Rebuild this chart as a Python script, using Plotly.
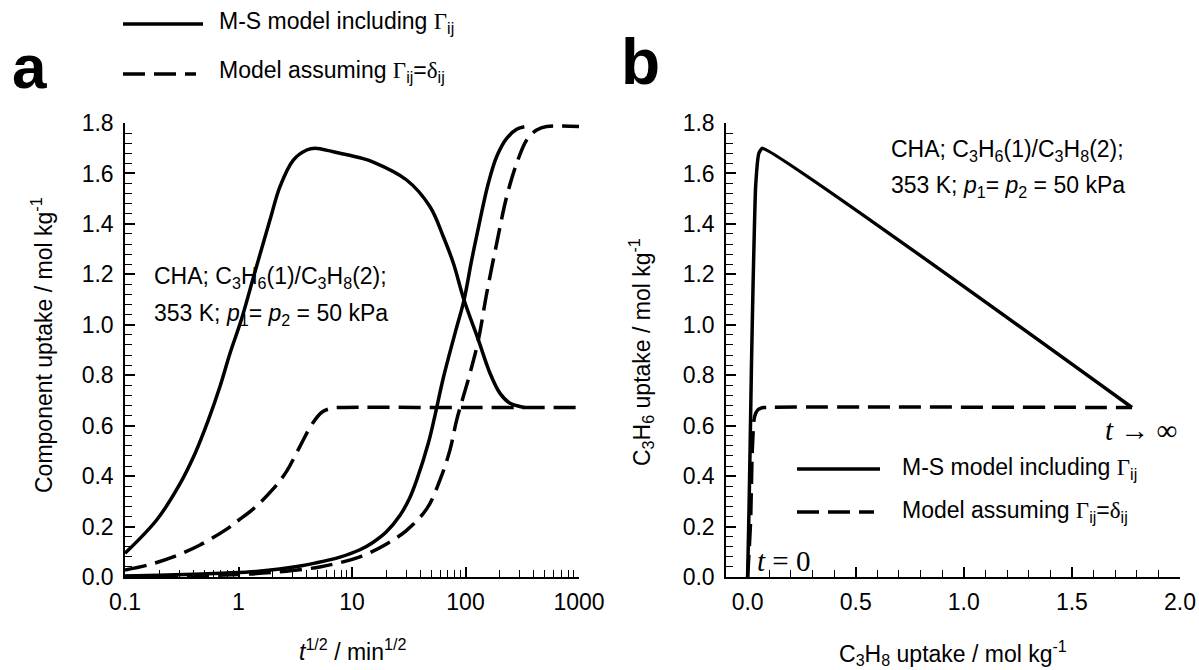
import plotly.graph_objects as go

# ---- Panel a: component uptake vs t^(1/2) (log axis) ----
# M-S model including thermodynamic factors, C3H6 (component 1)
t_ms_c3h6 = [0.1, 0.19, 0.295, 0.414, 0.542, 0.687, 0.842, 1.067, 1.397, 1.895, 2.32, 3.04,
             3.99, 4.72, 6.84, 11.75, 15.4, 30.3, 48.7, 63.8, 78.2, 97.1, 129.8, 164.4,
             201.4, 246.6, 302, 330]
q_ms_c3h6 = [0.094, 0.226, 0.358, 0.49, 0.622, 0.755, 0.887, 1.025, 1.21, 1.416, 1.548, 1.653,
             1.693, 1.700, 1.686, 1.662, 1.645, 1.574, 1.468, 1.349, 1.244, 1.098, 0.94, 0.808,
             0.728, 0.689, 0.676, 0.672]
# M-S model including thermodynamic factors, C3H8 (component 2)
t_ms_c3h8 = [0.1, 0.2, 0.41, 0.8, 1.5, 2.3, 3.5, 4.7, 7.84, 11.75, 15.4, 20, 26.5, 32, 37.2,
             47.0, 53.8, 63.8, 80.8, 97.0, 113.4, 134.3, 158.9, 188.3, 230.6, 282.5, 330]
q_ms_c3h8 = [0.004, 0.007, 0.011, 0.016, 0.023, 0.032, 0.044, 0.055, 0.079, 0.108, 0.138, 0.178,
             0.245, 0.31, 0.385, 0.53, 0.64, 0.79, 0.966, 1.098, 1.257, 1.416, 1.561, 1.667,
             1.739, 1.775, 1.785]
# Model with Gamma_ij = delta_ij, C3H6
t_fk_c3h6 = [0.1, 0.155, 0.266, 0.458, 0.787, 1.0, 1.35, 2.03, 2.66, 3.5, 4.5, 5.5, 6.8, 8, 100,
             1000]
q_fk_c3h6 = [0.028, 0.046, 0.08, 0.127, 0.19, 0.225, 0.27, 0.35, 0.42, 0.52, 0.61, 0.655, 0.67,
             0.672, 0.672, 0.672]
# Model with Gamma_ij = delta_ij, C3H8
t_fk_c3h8 = [0.1, 0.3, 1, 2, 5.2, 11.75, 20, 30.3, 45.5, 59.6, 73.0, 83.6, 109.6, 129.8, 153.8,
             188.3, 230.6, 282.5, 346, 424, 519, 1000]
q_fk_c3h8 = [0.002, 0.004, 0.01, 0.018, 0.04, 0.08, 0.13, 0.185, 0.27, 0.385, 0.504, 0.622,
             0.808, 0.94, 1.125, 1.323, 1.508, 1.64, 1.733, 1.772, 1.786, 1.786]

# ---- Panel b: C3H6 uptake vs C3H8 uptake (transient trajectory) ----
b_ms_q2 = [0.0, 0.006, 0.011, 0.018, 0.025, 0.037, 0.052, 0.068, 1.778]
b_ms_q1 = [0.0, 0.25, 0.49, 0.85, 1.15, 1.548, 1.68, 1.70, 0.672]
b_fk_q2 = [0.0, 0.008, 0.014, 0.021, 0.029, 0.038, 0.048, 0.06, 0.075, 1.778]
b_fk_q1 = [0.0, 0.12, 0.226, 0.49, 0.62, 0.65, 0.663, 0.669, 0.672, 0.672]

# ---- Tick labels ----
log_ticks = [0.1, 1, 10, 100, 1000]
log_tick_text = ["0.1", "1", "10", "100", "1000"]
log_minor = [m * 10 ** e for e in (-1, 0, 1, 2) for m in range(2, 10)]

W, H = 1199, 670
SANS = "Arial, Liberation Sans, Helvetica, sans-serif"
SERIF = "Times New Roman, Liberation Serif, serif"
FS = 23
LW = 3.5
DASH = "22px,9px"

def px(x):
    return x / W

def py(y):
    return 1 - y / H

fig = go.Figure()

line_solid = dict(color="black", width=LW, shape="spline", smoothing=1.0)
line_dash = dict(color="black", width=LW, dash=DASH, shape="spline", smoothing=1.0)

fig.add_trace(go.Scatter(x=t_ms_c3h6, y=q_ms_c3h6, mode="lines", line=line_solid,
                         xaxis="x", yaxis="y"))
fig.add_trace(go.Scatter(x=t_ms_c3h8, y=q_ms_c3h8, mode="lines", line=line_solid,
                         xaxis="x", yaxis="y"))
fig.add_trace(go.Scatter(x=t_fk_c3h6, y=q_fk_c3h6, mode="lines", line=line_dash,
                         xaxis="x", yaxis="y"))
fig.add_trace(go.Scatter(x=t_fk_c3h8, y=q_fk_c3h8, mode="lines", line=line_dash,
                         xaxis="x", yaxis="y"))
fig.add_trace(go.Scatter(x=b_ms_q2, y=b_ms_q1, mode="lines",
                         line=dict(color="black", width=LW, shape="spline", smoothing=0.4),
                         xaxis="x2", yaxis="y2"))
fig.add_trace(go.Scatter(x=b_fk_q2, y=b_fk_q1, mode="lines",
                         line=dict(color="black", width=LW, dash=DASH, shape="spline", smoothing=0.4),
                         xaxis="x2", yaxis="y2"))

y_dom = [py(577), py(123)]
common = dict(showline=True, linecolor="black", linewidth=1.5, mirror=False,
              ticks="inside", ticklen=10, tickwidth=1.5, tickcolor="black",
              showgrid=False, zeroline=False, automargin=False,
              tickfont=dict(family=SANS, size=FS, color="black"))
minor_common = dict(ticks="inside", ticklen=7, tickwidth=1.2, tickcolor="black")

fig.update_layout(
    template="none",
    width=W, height=H,
    margin=dict(l=0, r=0, t=0, b=0, pad=0),
    paper_bgcolor="white", plot_bgcolor="white",
    showlegend=False,
    xaxis=dict(domain=[px(125), px(579)], type="log", range=[-1, 3], anchor="y",
               tickmode="array", tickvals=log_ticks, ticktext=log_tick_text,
               ticklabelstandoff=4,
               minor=dict(tickmode="array", tickvals=log_minor, **minor_common),
               **common),
    yaxis=dict(domain=y_dom, range=[0, 1.8], anchor="x", tick0=0, dtick=0.2, tickformat=".1f",
               ticklabelstandoff=5,
               minor=dict(tick0=0, dtick=0.04, **minor_common),
               **common),
    xaxis2=dict(domain=[px(726), px(1180)], range=[-0.1, 2.0], anchor="y2", tick0=0, dtick=0.5,
                tickformat=".1f", ticklabelstandoff=4,
                minor=dict(tick0=0, dtick=0.1, **minor_common),
                **common),
    yaxis2=dict(domain=y_dom, range=[0, 1.8], anchor="x2", tick0=0, dtick=0.2, tickformat=".1f",
                ticklabelstandoff=5,
                minor=dict(tick0=0, dtick=0.04, **minor_common),
                **common),
)

annotations = []

def note(text, x, y, size=FS, family=SANS, angle=0, xanchor="center", yanchor="middle"):
    annotations.append(dict(text=text, x=px(x), y=py(y), xref="paper", yref="paper",
                            showarrow=False, textangle=angle, xanchor=xanchor, yanchor=yanchor,
                            font=dict(family=family, size=size, color="black")))

gamma = '<span style="font-family:Times New Roman, Liberation Serif, serif">Γ</span>'
delta = '<span style="font-family:Times New Roman, Liberation Serif, serif">δ</span>'
lab_ms = "M-S model including " + gamma + "<sub>ij</sub>"
lab_fk = "Model assuming " + gamma + "<sub>ij</sub>=" + delta + "<sub>ij</sub>"

# Panel letters
note("<b>a</b>", 29, 66, size=62)
note("<b>b</b>", 640, 62, size=64)

# Axis titles
note("Component uptake / mol kg<sup>-1</sup>", 42, 345, angle=-90)
note("<i>t</i><sup>1/2</sup> / min<sup>1/2</sup>", 352, 650)
note("C<sub>3</sub>H<sub>6</sub> uptake / mol kg<sup>-1</sup>", 641, 352, angle=-90)
note("C<sub>3</sub>H<sub>8</sub> uptake / mol kg<sup>-1</sup>", 953, 653)

# Conditions text
cond1 = "CHA; C<sub>3</sub>H<sub>6</sub>(1)/C<sub>3</sub>H<sub>8</sub>(2);"
cond2 = "353 K; <i>p</i><sub>1</sub>= <i>p</i><sub>2</sub> = 50 kPa"
note(cond1, 152, 277, xanchor="left")
note(cond2, 152, 314, xanchor="left")
note(cond1, 889, 150, xanchor="left")
note(cond2, 889, 186, xanchor="left")

# Trajectory end markers in panel b
note("<i>t</i> → ∞", 1141, 430, size=29, family=SERIF)
note("<i>t</i> = 0", 783, 561, size=29, family=SERIF)

# Legends (top of panel a and inside panel b)
note(lab_ms, 217, 23, xanchor="left")
note(lab_fk, 217, 71, xanchor="left")
note(lab_ms, 900, 468, xanchor="left")
note(lab_fk, 900, 511, xanchor="left")

shapes = []

def legend_line(x0, x1, y, dashed):
    ln = dict(color="black", width=LW)
    if dashed:
        ln["dash"] = DASH
    shapes.append(dict(type="line", xref="paper", yref="paper", x0=px(x0), x1=px(x1),
                       y0=py(y), y1=py(y), line=ln))

legend_line(123, 203, 24, False)
legend_line(123, 196, 74, True)
legend_line(797, 880, 469, False)
legend_line(797, 874, 512, True)

fig.update_layout(annotations=annotations, shapes=shapes)

fig.write_html("out.html")
